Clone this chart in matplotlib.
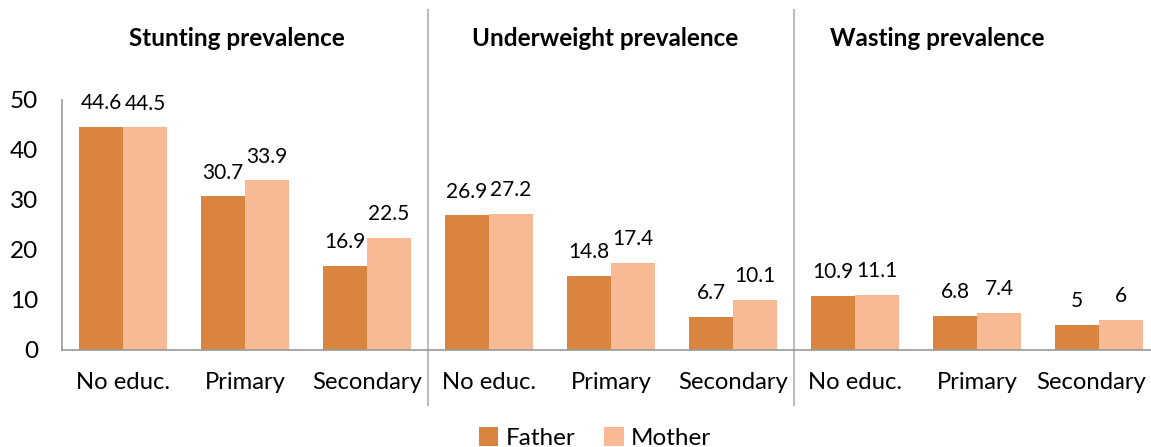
import numpy as np
import matplotlib
matplotlib.use("Agg")
from matplotlib import pyplot as plt
from matplotlib import transforms

# dados
categorias = ["No educ.", "Primary", "Secondary"] * 3
paineis = ["Stunting prevalence", "Underweight prevalence", "Wasting prevalence"]
pai = [44.6, 30.7, 16.9, 26.9, 14.8, 6.7, 10.9, 6.8, 5]
mae = [44.5, 33.9, 22.5, 27.2, 17.4, 10.1, 11.1, 7.4, 6]
yticks = [0, 10, 20, 30, 40, 50]

cor_pai = "#D9843F"
cor_mae = "#F8B995"
cinza = "#BDBDBD"

plt.rcParams["font.family"] = ["Lato", "DejaVu Sans"]

W, H = 1151, 447
fig = plt.figure(figsize=(W / 100, H / 100), dpi=100)
ax = fig.add_axes([62 / W, 1 - 350 / H, 1098 / W, 250 / H])

x = np.arange(len(categorias))
larg = 0.36
b1 = ax.bar(x - larg / 2, pai, larg, color=cor_pai, label="Father")
b2 = ax.bar(x + larg / 2, mae, larg, color=cor_mae, label="Mother")

# rotulos acima das barras
for barras, vals in ((b1, pai), (b2, mae)):
    for b, v in zip(barras, vals):
        ax.annotate(f"{v:g}", (b.get_x() + b.get_width() / 2, v),
                    xytext=(0, 10), textcoords="offset points",
                    ha="center", va="bottom", fontsize=15)

ax.set_xlim(-0.5, len(categorias) - 0.5)
ax.set_ylim(0, 50)
ax.set_yticks(yticks)
ax.set_xticks(x)
ax.set_xticklabels(categorias)
ax.tick_params(axis="x", length=0, pad=16, labelsize=17.2)
ax.tick_params(axis="y", length=0, pad=17, labelsize=17.5)

# ultimo rotulo empurrado p/ esquerda para caber (como no excel)
ultimo = ax.get_xticklabels()[-1]
ultimo.set_transform(ultimo.get_transform() +
                     transforms.ScaledTranslation(-8 / 100, 0, fig.dpi_scale_trans))

for s in ("top", "right"):
    ax.spines[s].set_visible(False)
for s in ("left", "bottom"):
    ax.spines[s].set_color("#999999")
    ax.spines[s].set_linewidth(1.2)

# separadores entre paineis
for xs in (2.5, 5.5):
    ax.plot([xs, xs], [-11, 68], color=cinza, lw=1.5, clip_on=False)

# titulos dos paineis
for txt, px in zip(paineis, (237, 605, 937)):
    fig.text(px / W, 1 - 38 / H, txt, ha="center", va="center",
             fontsize=17.5, fontweight="bold")

fig.legend(handles=[b1, b2], loc="center", bbox_to_anchor=(595 / W, 1 - 438 / H),
           ncol=2, frameon=False, fontsize=17.5, handlelength=0.8, handleheight=0.8,
           handletextpad=0.3, columnspacing=1.2, borderpad=0)

fig.savefig("out.png", dpi=100)
